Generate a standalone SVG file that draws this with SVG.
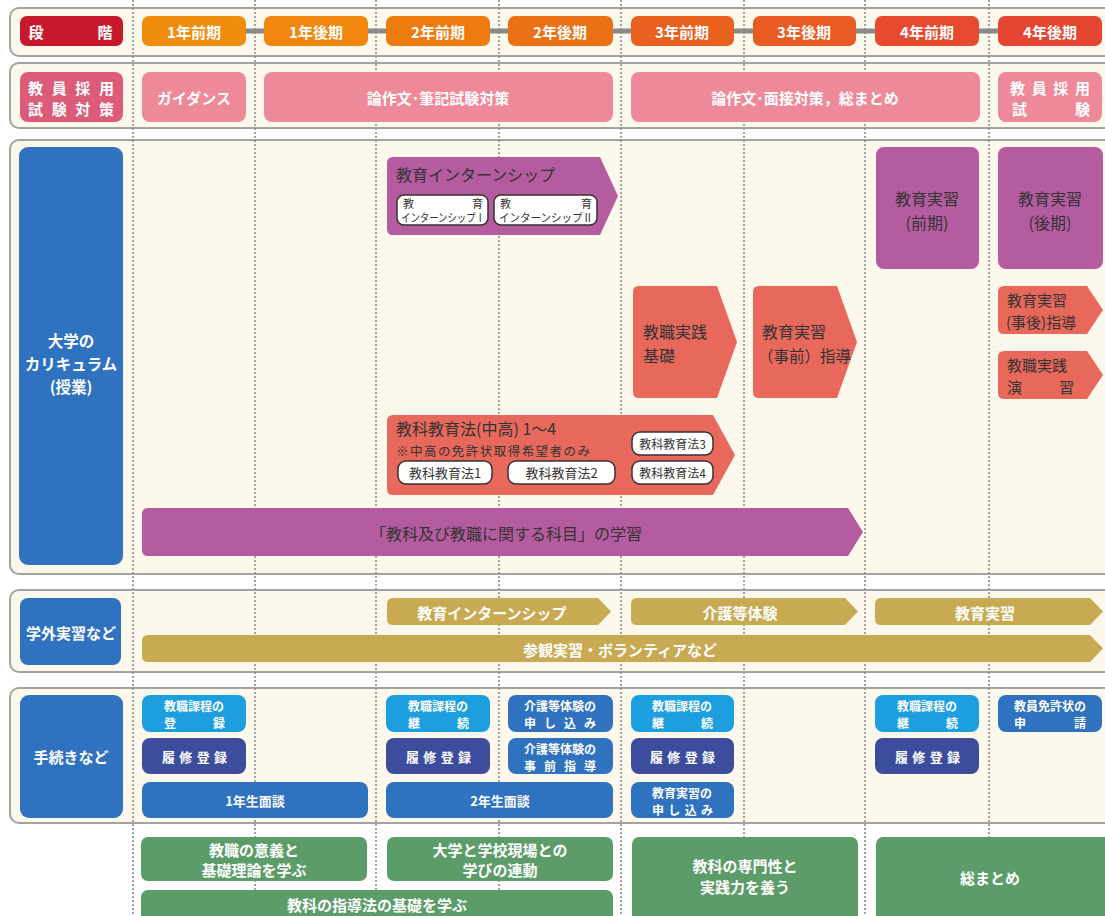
<svg xmlns="http://www.w3.org/2000/svg" width="1105" height="916" viewBox="0 0 1105 916">
<style>
text{font-family:"Noto Sans CJK JP","Noto Sans CJK SC",sans-serif;dominant-baseline:central}
.w{fill:#fff;font-weight:700}
.d{fill:#333}
.m{text-anchor:middle}
.e{text-anchor:end}
.row{fill:#fcf9ec;stroke:#a3a3a3;stroke-width:2}
.vl{stroke:#8d8d8d;stroke-width:1.6;stroke-dasharray:2 2;fill:none}
.pk{fill:#ee8999}
.pkd{fill:#dc5b79}
.bl{fill:#2f72c0}
.cy{fill:#1d9fdf}
.nv{fill:#3c4d9e}
.pu{fill:#b45c9f}
.sa{fill:#e8685b}
.go{fill:#c7aa52}
.gr{fill:#5c9c68}
.wb{fill:#fff;stroke:#333;stroke-width:1.5}
.h15{font-size:15px}
.h13{font-size:13px}
.h12{font-size:12px}
.h16{font-size:16px}
</style>
<rect width="1105" height="916" fill="#fff"/>
<g id="rows">
<rect class="row" x="10" y="8" width="1110" height="48" rx="9"/>
<rect class="row" x="10" y="63" width="1110" height="65" rx="9"/>
<rect class="row" x="10" y="140" width="1110" height="434" rx="9"/>
<rect class="row" x="10" y="590" width="1110" height="82" rx="9"/>
<rect class="row" x="10" y="688" width="1110" height="135" rx="9"/>
</g>
<g id="connectors">
<line class="vl" x1="133" y1="0" x2="133" y2="916"/>
<line class="vl" x1="255" y1="0" x2="255" y2="916"/>
<line class="vl" x1="376" y1="0" x2="376" y2="916"/>
<line class="vl" x1="499" y1="0" x2="499" y2="916"/>
<line class="vl" x1="621" y1="0" x2="621" y2="916"/>
<line class="vl" x1="744" y1="0" x2="744" y2="916"/>
<line class="vl" x1="865" y1="0" x2="865" y2="916"/>
<line class="vl" x1="989" y1="0" x2="989" y2="916"/>
<line x1="246" y1="31" x2="998" y2="31" stroke="#8a8a8a" stroke-width="5"/>
</g>
<g id="header">
<g id="h-dankai"><rect x="20" y="16" width="103" height="30" rx="7" fill="#c8192c"/><text class="w h15 m" x="36" y="31">段</text><text class="w h15 m" x="105" y="31">階</text></g>
<g id="h-1a"><rect x="142" y="16" width="104" height="30" rx="7" fill="#f08c0e"/><text class="w h15 m" x="194" y="31">1年前期</text></g>
<g id="h-1b"><rect x="264" y="16" width="104" height="30" rx="7" fill="#f0860c"/><text class="w h15 m" x="316" y="31">1年後期</text></g>
<g id="h-2a"><rect x="386" y="16" width="104" height="30" rx="7" fill="#ee7b0e"/><text class="w h15 m" x="438" y="31">2年前期</text></g>
<g id="h-2b"><rect x="508" y="16" width="105" height="30" rx="7" fill="#ec7115"/><text class="w h15 m" x="560" y="31">2年後期</text></g>
<g id="h-3a"><rect x="631" y="16" width="103" height="30" rx="7" fill="#e9601f"/><text class="w h15 m" x="682" y="31">3年前期</text></g>
<g id="h-3b"><rect x="753" y="16" width="103" height="30" rx="7" fill="#e85b23"/><text class="w h15 m" x="804" y="31">3年後期</text></g>
<g id="h-4a"><rect x="875" y="16" width="104" height="30" rx="7" fill="#e64b2e"/><text class="w h15 m" x="927" y="31">4年前期</text></g>
<g id="h-4b"><rect x="998" y="16" width="104" height="30" rx="7" fill="#e54631"/><text class="w h15 m" x="1050" y="31">4年後期</text></g>
</g>
<g id="exam-row">
<g id="exam-label"><rect class="pkd" x="20" y="72" width="103" height="50" rx="8"/><text class="w h15" x="28" y="87" textLength="86" lengthAdjust="spacing">教員採用</text><text class="w h15" x="28" y="108" textLength="86" lengthAdjust="spacing">試験対策</text></g>
<g id="guidance"><rect class="pk" x="142" y="72" width="104" height="50" rx="8"/><text class="w h15 m" x="194" y="97">ガイダンス</text></g>
<g id="essay1"><rect class="pk" x="264" y="72" width="349" height="50" rx="8"/><text class="w h15 m" x="438" y="97">論作文･筆記試験対策</text></g>
<g id="essay2"><rect class="pk" x="631" y="72" width="349" height="50" rx="8"/><text class="w h15 m" x="805" y="97">論作文･面接対策，総まとめ</text></g>
<g id="exam"><rect class="pk" x="998" y="72" width="104" height="50" rx="8"/><text class="w h15" x="1010" y="87" textLength="80" lengthAdjust="spacing">教員採用</text><text class="w h15" x="1012" y="108">試</text><text class="w h15 e" x="1090" y="108">験</text></g>
</g>
<g id="curriculum">
<g id="cur-label"><rect class="bl" x="19" y="147" width="104" height="418" rx="9"/><text class="w m" font-size="15.5" x="71" y="340">大学の</text><text class="w m" font-size="15.5" x="71" y="363">カリキュラム</text><text class="w m" font-size="15.5" x="71" y="386">(授業)</text></g>
<g id="internship">
<path class="pu" d="M393,157 H600 L618,196 L600,235 H393 Q387,235 387,229 V163 Q387,157 393,157 Z"/>
<text class="d h16" x="396" y="174">教育インターンシップ</text>
<rect class="wb" x="397" y="195" width="91" height="30" rx="7"/>
<text class="d" x="403" y="203" font-size="11">教</text><text class="d e" x="483" y="203" font-size="11">育</text>
<text class="d" x="401" y="217" font-size="11.5" textLength="84" lengthAdjust="spacingAndGlyphs">インターンシップⅠ</text>
<rect class="wb" x="494" y="195" width="103" height="30" rx="7"/>
<text class="d" x="500" y="203" font-size="11">教</text><text class="d e" x="592" y="203" font-size="11">育</text>
<text class="d" x="499" y="217" font-size="11.5" textLength="94" lengthAdjust="spacingAndGlyphs">インターンシップⅡ</text>
</g>
<g id="practice-a"><rect class="pu" x="876" y="147" width="103" height="122" rx="8"/><text class="d h16 m" x="927" y="198">教育実習</text><text class="d h16 m" x="927" y="222">(前期)</text></g>
<g id="practice-b"><rect class="pu" x="998" y="147" width="105" height="122" rx="8"/><text class="d h16 m" x="1050" y="198">教育実習</text><text class="d h16 m" x="1050" y="222">(後期)</text></g>
<g id="kiso"><path class="sa" d="M639,286 H717 L737,342 L717,398 H639 Q633,398 633,392 V292 Q633,286 639,286 Z"/><text class="d h16" x="643" y="331">教職実践</text><text class="d h16" x="643" y="355">基礎</text></g>
<g id="jizen"><path class="sa" d="M759,286 H837 L857,342 L837,398 H759 Q753,398 753,392 V292 Q753,286 759,286 Z"/><text class="d h16" x="762" y="331">教育実習</text><text class="d" x="758" y="355" font-size="15.5">（事前）指導</text></g>
<g id="jigo"><path class="sa" d="M1004,286 H1087 L1103,310 L1087,334 H1004 Q998,334 998,328 V292 Q998,286 1004,286 Z"/><text class="d h15" x="1007" y="299">教育実習</text><text class="d h15" x="1006" y="321">(事後)指導</text></g>
<g id="enshu"><path class="sa" d="M1004,351 H1087 L1103,375 L1087,399 H1004 Q998,399 998,393 V357 Q998,351 1004,351 Z"/><text class="d h15" x="1007" y="364">教職実践</text><text class="d h15" x="1007" y="386">演</text><text class="d h15 e" x="1074" y="386">習</text></g>
<g id="kyoikuho">
<path class="sa" d="M393,415 H713 L735,455 L713,495 H393 Q387,495 387,489 V421 Q387,415 393,415 Z"/>
<text class="d h16" x="396" y="428">教科教育法(中高) 1～4</text>
<text class="d" x="396" y="450" font-size="12.5" textLength="194" lengthAdjust="spacing">※中高の免許状取得希望者のみ</text>
<rect class="wb" x="398" y="461" width="94" height="23" rx="8"/><text class="d h13 m" x="445" y="472.5">教科教育法1</text>
<rect class="wb" x="508" y="461" width="107" height="23" rx="8"/><text class="d h13 m" x="561.5" y="472.5">教科教育法2</text>
<rect class="wb" x="632" y="432" width="81" height="23" rx="8"/><text class="d m" x="672.5" y="443.5" font-size="12">教科教育法3</text>
<rect class="wb" x="632" y="461" width="81" height="23" rx="8"/><text class="d m" x="672.5" y="472.5" font-size="12">教科教育法4</text>
</g>
<g id="kamoku"><path class="pu" d="M148,508 H848 L863,532 L848,556 H148 Q142,556 142,550 V514 Q142,508 148,508 Z"/><text class="d h16 m" x="506" y="533">「教科及び教職に関する科目」の学習</text></g>
</g>
<g id="external">
<g id="ext-label"><rect class="bl" x="20" y="598" width="101" height="67" rx="8"/><text class="w h15 m" x="71" y="632">学外実習など</text></g>
<g id="ext-intern"><path class="go" d="M393,598 H598 L611,611.5 L598,625 H393 Q387,625 387,619 V604 Q387,598 393,598 Z"/><text class="w h15 m" x="492" y="612">教育インターンシップ</text></g>
<g id="ext-kaigo"><path class="go" d="M637,598 H845 L858,611.5 L845,625 H637 Q631,625 631,619 V604 Q631,598 637,598 Z"/><text class="w h15 m" x="740" y="612">介護等体験</text></g>
<g id="ext-practice"><path class="go" d="M881,598 H1090 L1103,611.5 L1090,625 H881 Q875,625 875,619 V604 Q875,598 881,598 Z"/><text class="w h15 m" x="985" y="612">教育実習</text></g>
<g id="ext-volunteer"><path class="go" d="M148,635 H1090 L1103,648.5 L1090,662 H148 Q142,662 142,656 V641 Q142,635 148,635 Z"/><text class="w h15 m" x="620" y="649">参観実習・ボランティアなど</text></g>
</g>
<g id="procedures">
<g id="proc-label"><rect class="bl" x="20" y="695" width="103" height="123" rx="9"/><text class="w h15 m" x="71" y="756">手続きなど</text></g>
<g id="p1-reg"><rect class="cy" x="142" y="695" width="104" height="37" rx="8"/><text class="w h12 m" x="194" y="705">教職課程の</text><text class="w h12" x="164" y="722">登</text><text class="w h12 e" x="225" y="722">録</text></g>
<g id="p1-risyu"><rect class="nv" x="142" y="738" width="104" height="36" rx="8"/><text class="w h13" x="162" y="756" textLength="65" lengthAdjust="spacing">履修登録</text></g>
<g id="p1-mendan"><rect class="bl" x="142" y="782" width="226" height="36" rx="8"/><text class="w h13 m" x="255" y="800">1年生面談</text></g>
<g id="p2-cont"><rect class="cy" x="386" y="695" width="104" height="37" rx="8"/><text class="w h12 m" x="438" y="705">教職課程の</text><text class="w h12" x="408" y="722">継</text><text class="w h12 e" x="469" y="722">続</text></g>
<g id="p2-risyu"><rect class="nv" x="386" y="738" width="104" height="36" rx="8"/><text class="w h13" x="406" y="756" textLength="65" lengthAdjust="spacing">履修登録</text></g>
<g id="p2-mendan"><rect class="bl" x="386" y="782" width="227" height="36" rx="8"/><text class="w h13 m" x="500" y="800">2年生面談</text></g>
<g id="p2-kaigo1"><rect class="bl" x="508" y="695" width="105" height="37" rx="8"/><text class="w h12 m" x="560" y="705">介護等体験の</text><text class="w h12" x="524" y="722" textLength="72" lengthAdjust="spacing">申し込み</text></g>
<g id="p2-kaigo2"><rect class="bl" x="508" y="738" width="105" height="36" rx="8"/><text class="w h12 m" x="560" y="748">介護等体験の</text><text class="w h12" x="524" y="765" textLength="72" lengthAdjust="spacing">事前指導</text></g>
<g id="p3-cont"><rect class="cy" x="631" y="695" width="103" height="37" rx="8"/><text class="w h12 m" x="682" y="705">教職課程の</text><text class="w h12" x="652" y="722">継</text><text class="w h12 e" x="713" y="722">続</text></g>
<g id="p3-risyu"><rect class="nv" x="631" y="738" width="103" height="36" rx="8"/><text class="w h13" x="650" y="756" textLength="65" lengthAdjust="spacing">履修登録</text></g>
<g id="p3-apply"><rect class="bl" x="631" y="782" width="103" height="36" rx="8"/><text class="w h12 m" x="682" y="792">教育実習の</text><text class="w h12" x="652" y="809" textLength="61" lengthAdjust="spacing">申し込み</text></g>
<g id="p4-cont"><rect class="cy" x="875" y="695" width="104" height="37" rx="8"/><text class="w h12 m" x="927" y="705">教職課程の</text><text class="w h12" x="897" y="722">継</text><text class="w h12 e" x="958" y="722">続</text></g>
<g id="p4-risyu"><rect class="nv" x="875" y="738" width="104" height="36" rx="8"/><text class="w h13" x="895" y="756" textLength="65" lengthAdjust="spacing">履修登録</text></g>
<g id="p4-license"><rect class="bl" x="998" y="695" width="104" height="37" rx="8"/><text class="w h12 m" x="1050" y="705">教員免許状の</text><text class="w h12" x="1014" y="722">申</text><text class="w h12 e" x="1086" y="722">請</text></g>
</g>
<g id="goals">
<g id="g1"><rect class="gr" x="141" y="837" width="226" height="44" rx="7"/><text class="w h15 m" x="254" y="849">教職の意義と</text><text class="w h15 m" x="254" y="869">基礎理論を学ぶ</text></g>
<g id="g2"><rect class="gr" x="387" y="837" width="226" height="44" rx="7"/><text class="w h15 m" x="500" y="849">大学と学校現場との</text><text class="w h15 m" x="500" y="869">学びの連動</text></g>
<g id="g3"><rect class="gr" x="141" y="890" width="472" height="34" rx="7"/><text class="w h15 m" x="377" y="904">教科の指導法の基礎を学ぶ</text></g>
<g id="g4"><rect class="gr" x="632" y="837" width="226" height="87" rx="7"/><text class="w h15 m" x="745" y="865">教科の専門性と</text><text class="w h15 m" x="745" y="886">実践力を養う</text></g>
<g id="g5"><rect class="gr" x="876" y="837" width="235" height="87" rx="7"/><text class="w h15 m" x="990" y="877">総まとめ</text></g>
</g>
</svg>
